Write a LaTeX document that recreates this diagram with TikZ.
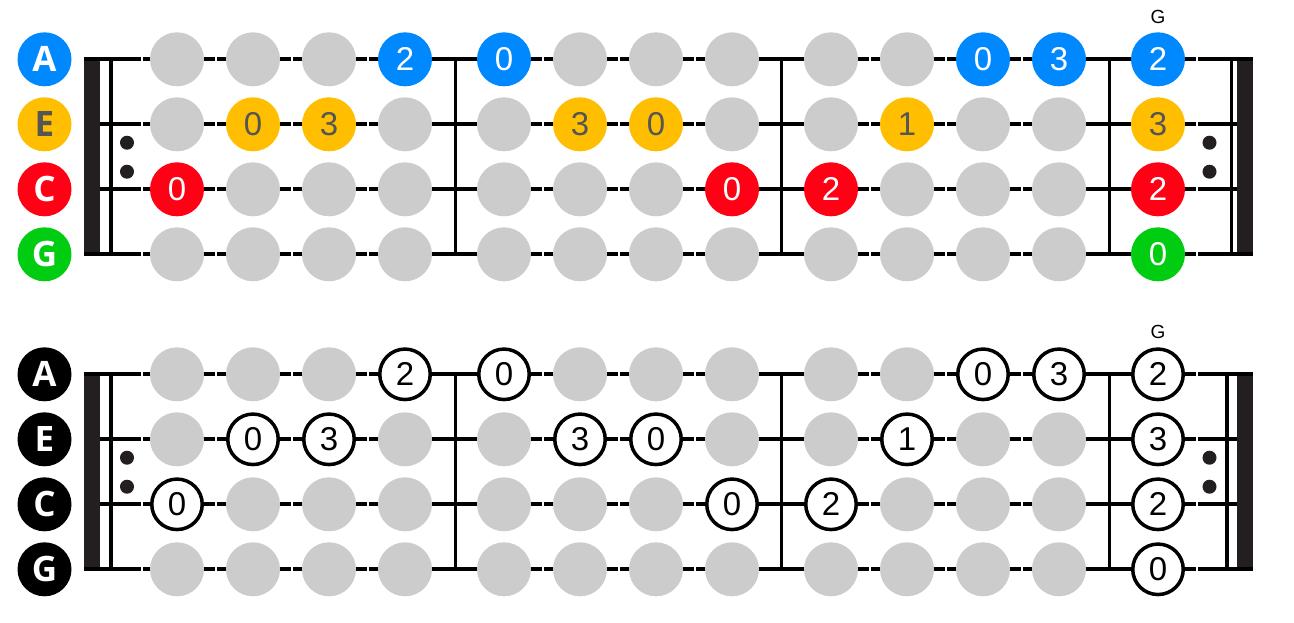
\documentclass[tikz,border=0pt]{standalone}
\usepackage{fontspec}
\setmainfont{Liberation Sans}
\newfontfamily\labfont{Open Sans}
\definecolor{cA}{RGB}{0,136,255}
\definecolor{cE}{RGB}{255,191,0}
\definecolor{cC}{RGB}{255,0,20}
\definecolor{cG}{RGB}{0,204,17}
\definecolor{fretgray}{RGB}{204,204,204}
\definecolor{bardark}{RGB}{35,31,32}
\definecolor{txtgray}{RGB}{85,85,85}
% note data: row (1=A,2=E,3=C,4=G), column (1..13), fret number
\newcommand\setnote[3]{\expandafter\gdef\csname fbnote-#1-#2\endcsname{#3}}
\setnote{1}{4}{2}\setnote{1}{5}{0}\setnote{1}{11}{0}\setnote{1}{12}{3}\setnote{1}{13}{2}
\setnote{2}{2}{0}\setnote{2}{3}{3}\setnote{2}{6}{3}\setnote{2}{7}{0}\setnote{2}{10}{1}\setnote{2}{13}{3}
\setnote{3}{1}{0}\setnote{3}{8}{0}\setnote{3}{9}{2}\setnote{3}{13}{2}
\setnote{4}{13}{0}
% one fretboard: #1 = prefix (t or b), #2 = vertical offset, #3 = right thin line x
\newcommand\fretboard[3]{%
\begin{scope}[shift={(0,#2)}]
  % repeat bars
  \fill[bardark] (84,59.3) rectangle (100,254.3);
  \fill[bardark] (1236.7,59.3) rectangle (1252.7,254.3);
  \coordinate (#1-thinL-top) at (111,59.3);
  \coordinate (#1-thinL-bot) at (111,254.3);
  \coordinate (#1-thinR-top) at (#3,59.3);
  \coordinate (#1-thinR-bot) at (#3,254.3);
  \draw[thinbar] (#1-thinL-top) -- (#1-thinL-bot);
  \draw[thinbar] (#1-thinR-top) -- (#1-thinR-bot);
  % bar lines
  \foreach \i/\bx in {1/455,2/781.7,3/1109}{
    \coordinate (#1-bar\i-top) at (\bx,59.3);
    \coordinate (#1-bar\i-bot) at (\bx,254.3);
    \draw[barline] (#1-bar\i-top) -- (#1-bar\i-bot);
  }
  % strings
  \foreach \rn/\y/\xs/\xe in {A/59.3/84/1252.7,E/124.3/100/1236.7,C/189.3/100/1236.7,G/254.3/84/1252.7}{
    \coordinate (#1-\rn-s) at (\xs,\y);
    \coordinate (#1-\rn-e) at (\xe,\y);
    \draw[stringline] (#1-\rn-s) -- (#1-\rn-e);
    \foreach \gx in {142,216,292,368,543,619,695,870,946,1022,1197}{
      \fill[white] (\gx-0.9,\y-2.6) rectangle (\gx+0.9,\y+2.6);
    }
  }
  % repeat dots
  \fill[bardark] (127,142.7) circle (7pt);
  \fill[bardark] (127,171.7) circle (7pt);
  \fill[bardark] (1209.5,142.7) circle (7pt);
  \fill[bardark] (1209.5,171.7) circle (7pt);
  % circles
  \foreach \r/\rn/\y in {1/A/59.3,2/E/124.3,3/C/189.3,4/G/254.3}{
    \node[#1lab, #1lab-\r] (#1-lab-\rn) at (44.5,\y) {\rn};
    \foreach \c/\x in {1/177,2/253,3/329,4/405,5/504,6/580,7/656,8/732,9/831,10/907,11/983,12/1059,13/1158}{
      \ifcsname fbnote-\r-\c\endcsname
        \node[#1note, #1note-\r] (#1-\rn-\c) at (\x,\y) {\csname fbnote-\r-\c\endcsname};
      \else
        \node[graydot] (#1-\rn-\c) at (\x,\y) {};
      \fi
    }
  }
  \node[keylabel] (#1-key) at (1158,17) {G};
\end{scope}}
\begin{document}
\begin{tikzpicture}[x=1pt,y=-1pt,
  stringline/.style={line width=4pt,black},
  barline/.style={line width=3pt,black},
  thinbar/.style={line width=3.5pt,black},
  graydot/.style={circle,fill=fretgray,minimum size=54pt,inner sep=0pt},
  tnote/.style={circle,minimum size=54pt,inner sep=0pt,font=\fontsize{33}{33}\selectfont},
  tnote-1/.style={fill=cA,text=white},
  tnote-2/.style={fill=cE,text=txtgray},
  tnote-3/.style={fill=cC,text=white},
  tnote-4/.style={fill=cG,text=white},
  bnote/.style={circle,draw=black,line width=3.5pt,fill=white,minimum size=50.5pt,inner sep=0pt,text=black,font=\fontsize{33}{33}\selectfont},
  bnote-1/.style={},bnote-2/.style={},bnote-3/.style={},bnote-4/.style={},
  tlab/.style={circle,minimum size=54pt,inner sep=0pt,font=\labfont\bfseries\fontsize{35}{35}\selectfont},
  tlab-1/.style={fill=cA,text=white},
  tlab-2/.style={fill=cE,text=txtgray},
  tlab-3/.style={fill=cC,text=white},
  tlab-4/.style={fill=cG,text=white},
  blab/.style={circle,minimum size=54pt,inner sep=0pt,fill=black,text=white,font=\labfont\bfseries\fontsize{35}{35}\selectfont},
  blab-1/.style={},blab-2/.style={},blab-3/.style={},blab-4/.style={},
  keylabel/.style={inner sep=0pt,font=\fontsize{19}{19}\selectfont,text=black}
]
\useasboundingbox (0,0) rectangle (1294,622);
\fretboard{t}{0}{1231.5}
\fretboard{b}{315}{1227}
\end{tikzpicture}
\end{document}
